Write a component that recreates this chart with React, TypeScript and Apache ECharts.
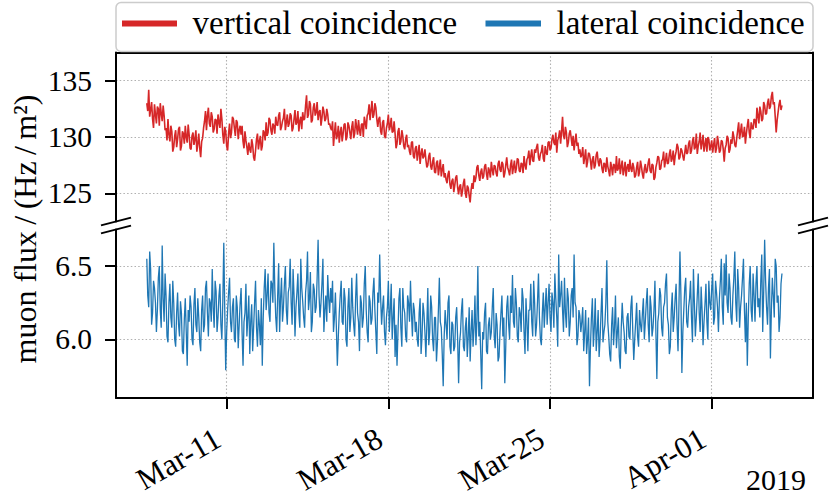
import React, { useEffect, useRef } from 'react';
import * as echarts from 'echarts';

// ---- data (hourly samples starting 2019-03-07 13:00 UTC) ----
const START_TIME = '2019-03-07T13:00:00Z';
const STEP_HOURS = 1;

const SERIES_NAMES = ['vertical coincidence', 'lateral coincidence'];
const TICK_DATES = ['2019-03-11', '2019-03-18', '2019-03-25', '2019-04-01'];
const TICK_LABELS = ['Mar-11', 'Mar-18', 'Mar-25', 'Apr-01'];
const TOP_TICKS = [125, 130, 135];
const BOTTOM_TICKS = [6.0, 6.5];
const YEAR_LABEL = '2019';
const Y_TITLE = 'muon flux\u2009/\u2009(Hz\u2009/\u2009m\u00b2)';

const VERTICAL = [
  133.0, 132.3, 134.2, 131.8, 132.4, 133.1, 131.6, 130.8, 132.9, 132.0, 131.2, 132.7, 132.5, 131.0, 133.0, 132.1, 131.4, 132.8, 131.9, 130.6,
  130.8, 129.7, 131.6, 130.2, 129.6, 131.0, 130.5, 128.7, 129.1, 130.1,
  130.6, 129.1, 129.8, 130.7, 130.9, 128.8, 129.2, 130.5, 130.3, 129.4, 131.0, 130.0, 129.5, 131.1, 130.2, 129.0, 128.9, 130.1, 130.4, 129.3,
  129.8, 130.6, 128.7, 129.4, 130.3, 129.0, 128.2, 129.6, 129.9, 130.8,
  131.4, 132.3, 130.6, 131.9, 132.6, 131.2, 130.9, 132.2, 131.8, 130.4, 130.7, 131.6, 131.5, 130.3, 132.0, 131.3, 130.8, 132.5, 131.6, 130.2,
  129.4, 130.9, 130.5, 129.2, 128.8, 130.3,
  131.2, 129.9, 130.4, 131.8, 131.6, 130.8, 130.1, 131.5, 131.3, 129.8, 130.6, 131.0,
  130.2, 131.0, 129.6, 129.0, 130.5, 129.7, 129.1, 128.4, 129.5, 128.9, 128.6, 129.8, 129.3, 128.2, 127.9, 128.8,
  129.8, 130.3, 128.9, 129.6, 130.1, 128.8, 129.2, 130.6, 130.4, 129.7,
  131.3, 130.1, 130.4, 131.7, 131.5, 130.6, 130.2, 131.2, 131.0, 130.3, 131.8, 131.1,
  131.0, 131.9, 132.2, 130.6, 130.9, 131.4, 131.7, 132.5, 130.6, 131.3, 132.0, 130.9, 131.2, 132.1,
  131.9, 130.5, 130.8, 131.6, 132.4, 131.1, 131.3, 132.3, 130.5, 131.4, 131.8, 130.7, 132.2, 131.5,
  131.6, 132.8, 133.7, 131.7, 132.0, 133.2, 132.9, 131.3, 131.5, 132.6, 133.0, 131.9, 132.2, 133.1,
  131.5, 132.2, 132.4, 131.0, 131.7, 132.7, 132.3, 131.4, 131.6, 132.5, 132.0, 131.1, 131.2, 130.8,
  130.6, 131.4, 129.2, 130.3, 131.3, 129.8, 130.1, 131.0, 129.5, 130.4, 130.9, 129.6, 130.3, 131.1,
  131.2, 129.7, 130.0, 131.3, 131.0, 130.4, 129.8, 130.9, 131.4, 129.9, 130.3, 131.6,
  130.9, 130.2, 131.5, 130.6, 130.1, 131.1, 131.2, 130.0, 131.8, 131.3, 130.7, 131.9,
  132.1, 132.9, 131.5, 132.4, 133.2, 131.7, 132.0, 133.0, 132.6, 131.6,
  130.9, 131.6, 131.8, 130.5, 130.2, 131.3, 131.5, 130.1, 129.9, 130.8, 131.2, 132.0, 130.6, 131.0, 131.7, 130.4, 130.5, 131.4,
  130.3, 129.0, 129.4, 130.5, 130.8, 129.3, 129.6, 130.6, 130.1, 129.2, 128.9, 129.8, 130.2, 129.1,
  129.3, 128.7, 128.4, 129.5, 129.6, 128.3, 128.1, 129.0, 129.2, 127.9, 128.6, 129.3, 127.6, 128.5, 129.0, 128.1, 128.3, 128.9, 128.0, 127.3,
  127.5, 128.3, 128.6, 127.4, 127.1, 127.8, 128.2, 126.9, 126.8, 127.7, 127.9, 126.6, 127.3, 128.0, 126.5, 127.1, 127.6, 126.4,
  126.8, 126.2, 125.9, 126.7, 127.0, 125.8, 125.4, 126.1, 126.3, 125.1, 125.7, 126.4, 126.6, 125.5,
  124.9, 125.6, 125.8, 124.7, 125.2, 125.9, 126.3, 125.0, 124.6, 125.7, 125.5, 124.8, 124.2, 125.3,
  125.9, 125.4, 126.6, 126.0,
  126.4, 127.3, 127.5, 126.6, 126.1, 126.9, 127.2, 126.3, 126.5, 127.4, 127.6, 126.7, 126.2, 127.3, 127.0, 126.4, 127.8, 127.1, 126.6, 127.5,
  127.4, 126.8, 126.5, 127.6, 127.9, 127.1, 126.9, 127.8, 127.6, 126.4, 126.8, 127.5, 128.2, 127.3, 127.0, 126.6, 127.5,
  128.0, 126.7, 127.3, 127.9, 126.8, 127.2, 128.1, 128.0, 127.0, 126.9, 127.7, 127.6, 126.8, 128.3, 127.5, 127.1, 128.0,
  128.2, 128.8, 127.5, 128.3, 128.9, 127.9, 127.8, 128.9, 128.6, 129.1, 129.4, 128.2, 127.9, 128.5, 128.7, 129.3, 128.1, 127.8, 129.2, 128.6, 128.4, 129.5, 129.6, 128.8,
  129.0, 129.8, 130.2, 129.5, 129.3, 130.4, 128.6, 129.7, 130.0, 130.6, 129.4, 130.5, 131.8, 130.1, 129.8, 130.9,
  130.4, 129.1, 129.5, 130.3, 130.6, 129.9, 129.2, 130.1, 128.8, 129.6, 130.3, 129.2, 129.5, 128.5, 128.9, 128.2,
  128.4, 129.1, 127.6, 128.2, 128.9, 127.3, 127.8, 128.6, 128.5, 127.9, 127.1, 128.0, 128.3, 127.2, 127.5, 128.4, 128.7, 127.8, 127.4, 128.1,
  127.9, 127.2, 126.8, 127.7, 127.6, 126.9, 128.2, 127.4, 127.0, 126.5, 127.8, 127.3, 126.6, 127.6, 127.5, 126.8, 128.3, 127.0,
  127.2, 128.1, 126.7, 127.4, 127.9, 126.6, 127.1, 127.8, 126.5, 127.3, 127.6, 126.9, 128.0, 127.2, 126.9, 127.7, 127.3, 126.4,
  126.6, 127.3, 127.8, 126.5, 126.9, 127.9, 127.4, 126.7, 126.3, 127.2, 127.6, 126.8, 127.0, 127.7,
  128.1, 127.0, 126.8, 127.6, 127.5, 126.2, 126.4, 127.3, 127.7, 128.3, 128.2, 127.1, 127.2, 127.9,
  128.0, 128.7, 127.3, 127.9, 128.6, 127.6, 127.7, 128.5, 128.9, 127.8, 128.1, 128.8, 127.5,
  128.3, 128.7, 129.4, 129.1, 128.0, 128.2, 129.0, 128.8, 128.3, 127.9, 128.6, 129.3, 128.5,
  128.6, 129.4, 129.7, 128.5, 128.8, 129.6, 130.0, 128.9, 129.1, 130.3, 128.5, 129.2, 129.6, 130.4, 128.9, 129.5, 130.2, 128.7, 129.3, 129.9,
  128.7, 130.0, 129.8, 128.8, 129.2, 129.7, 128.6, 129.3, 129.9, 128.6, 129.0, 130.1, 129.5, 128.6, 128.8, 129.7, 129.6, 128.9, 127.8, 129.0,
  129.3, 130.1, 129.9, 128.6, 128.9, 129.8, 129.4, 130.5, 130.0, 129.3, 129.1, 129.9,
  130.6, 131.3, 129.8, 130.5, 131.2, 130.0, 130.1, 130.9, 129.4, 130.3, 131.0, 131.6, 130.4, 129.9, 131.3, 130.8, 130.7, 131.6,
  131.5, 130.8, 132.6, 131.9, 131.2, 132.7, 132.3, 131.4, 131.6, 133.1, 132.8, 132.0, 132.1, 133.0,
  133.4, 132.5, 132.7, 133.6, 134.0, 132.9, 133.1, 131.8,
  130.4, 131.5,
  132.2, 132.9, 133.3, 132.4, 132.8,
];

const LATERAL = [
  6.55, 6.30, 6.22, 6.60, 6.48, 6.10, 6.18, 6.40, 6.35, 6.25, 6.05, 6.20, 6.42, 6.50, 6.20, 6.08, 6.64, 6.28, 6.12, 6.45, 6.30, 6.02, 5.98, 6.25, 6.38, 6.15,
  6.08, 6.40, 6.25, 6.00, 5.95, 6.18, 6.32, 6.10, 6.02, 6.26, 6.18, 5.92, 5.90, 6.14, 6.28, 6.05, 5.82, 6.20, 6.12, 6.30, 6.22, 6.00, 5.96, 6.24, 6.35, 6.10, 6.05, 6.28, 6.15, 5.98, 5.92, 6.20,
  6.30, 6.05, 6.10, 6.35, 6.40, 6.18, 6.02, 6.28, 6.25, 6.12, 6.48, 6.22, 6.08, 6.40, 6.33, 6.05, 6.15, 6.30, 6.38, 6.10, 6.00, 6.26, 6.66, 6.20, 5.79, 6.05, 6.20, 6.32, 6.42, 6.12,
  6.05, 6.22, 6.28, 6.00, 5.98, 6.30, 6.22, 5.94, 6.10, 6.25, 6.35, 6.05, 5.82, 6.12, 6.18, 6.38, 6.02, 6.15, 6.30, 5.90, 6.12, 6.24, 5.92, 6.08, 6.25, 6.40, 6.08, 5.95, 6.20, 6.10, 5.96, 6.28,
  5.82, 6.15, 6.35, 6.48, 6.20, 6.30, 6.45, 6.18, 6.12, 6.40, 6.38, 6.25, 6.66, 6.35, 6.15, 6.05, 6.30, 6.52, 6.05, 6.28, 6.42, 6.12, 6.22, 6.38,
  6.50, 6.20, 6.10, 6.32, 6.36, 6.55, 6.25, 6.10, 6.48, 6.30, 6.02, 6.22, 6.32, 6.45, 6.18, 6.08, 6.55, 6.35, 6.26, 6.15, 6.08, 6.32, 6.40, 6.60,
  6.20, 6.28, 6.46, 6.05, 6.12, 6.38, 6.34, 6.18, 6.22, 6.42, 6.68, 6.30, 6.15, 6.25, 6.38, 6.55, 6.05, 6.20, 6.30, 6.12, 6.44, 6.28, 6.18, 6.35,
  6.25, 6.40, 6.05, 6.15, 6.32, 6.08, 5.82, 6.02, 6.18, 6.30, 6.40, 6.12, 6.10, 6.35, 6.28, 6.00, 5.95, 6.22, 6.35, 6.05, 6.15, 6.42, 6.22, 6.10, 6.02, 6.28,
  6.45, 6.18, 6.12, 5.92, 6.30, 6.25, 6.08, 6.15, 6.38, 6.50, 6.20, 6.05, 5.98, 6.30, 6.26, 6.10, 6.14, 6.32, 6.42, 6.20, 6.05, 5.90, 6.32, 6.25, 6.58, 6.28,
  6.10, 6.22, 6.30, 6.05, 5.96, 6.15, 6.22, 6.40, 6.05, 6.20, 6.38, 6.00, 6.15, 6.28, 5.88, 6.10, 5.82, 6.05,
  6.28, 6.35, 6.08, 5.95, 6.35, 6.22, 6.18, 6.02, 5.98, 6.30, 6.25, 6.12, 6.40, 6.18, 6.02, 6.25, 6.20, 6.05,
  6.12, 6.00, 5.95, 6.18, 6.28, 5.90, 6.02, 6.25, 6.18, 6.05, 5.88, 6.10, 6.35, 5.96, 6.05, 6.30, 6.22, 6.00, 5.92,
  6.15, 6.15, 5.85, 5.98, 6.20, 6.42, 6.12, 6.08, 5.90, 5.68, 6.02, 6.20, 6.10, 6.00, 6.25, 6.30, 5.95, 5.90, 6.12,
  6.10, 5.92, 5.95, 6.15, 6.22, 6.00, 5.70, 5.98, 6.05, 6.20, 6.28, 5.95, 5.92, 6.08, 6.15, 5.88, 6.02, 6.22, 5.85, 6.05, 6.20, 5.95, 6.08, 6.30, 5.96, 6.12,
  6.50, 6.02, 6.12, 5.90, 5.66, 6.05, 6.00, 6.18, 6.25, 5.92, 5.90, 6.10, 6.15, 6.00, 6.05, 6.22, 6.35, 6.02, 5.94, 6.18, 6.10, 5.85, 5.88, 6.05, 6.18, 6.30,
  6.02, 6.15, 5.70, 5.95, 6.22, 6.30, 6.10, 6.00, 6.30, 6.18, 6.44, 6.12, 6.08, 6.35, 6.25, 6.02, 5.98, 6.22, 6.18, 6.05, 6.35, 6.28, 6.05,
  5.90, 6.28, 6.12, 5.92, 6.20, 6.20, 6.38, 6.12, 6.02, 6.40, 6.25, 6.02, 6.10, 6.26, 6.45, 6.15, 6.00, 5.96, 6.18, 6.32, 6.08, 6.22, 6.35,
  6.10, 6.25, 6.38, 6.15, 6.05, 6.32, 6.25, 6.08, 6.45, 6.28, 6.15, 5.95, 6.58, 6.22, 6.30, 6.40, 6.20, 6.05,
  6.42, 6.18, 6.08, 6.35, 6.28, 6.02, 6.12, 6.30, 6.35, 6.15, 6.58, 6.25, 6.22, 5.96, 6.02, 6.20, 6.16, 6.05,
  6.12, 6.22, 5.92, 6.05, 6.20, 5.90, 6.00, 6.15, 5.68, 5.95, 6.15, 6.28, 5.95, 6.08, 6.28, 5.92, 6.05, 6.20, 5.88, 6.00, 6.18, 6.35, 5.98, 6.05, 6.10, 6.25, 6.54, 6.12, 6.02, 5.90, 5.85,
  6.10, 6.22, 5.96, 6.08, 6.30, 5.94, 6.05, 6.15, 5.88, 5.80, 6.08, 6.25, 6.12, 6.05, 5.92, 5.90, 6.15, 6.18, 6.02, 6.00, 6.22, 6.30, 6.05, 5.86, 6.00, 6.12, 6.25, 6.02, 5.95, 6.20, 6.10,
  6.05, 6.18, 6.28, 6.00, 6.12, 6.25, 6.35, 6.10, 5.98, 6.30, 6.22, 6.02, 6.08, 6.20, 6.40, 6.05, 5.73, 6.12, 6.18, 6.35, 6.30, 6.08, 6.02, 6.22, 6.25, 6.38, 6.45, 6.15, 6.10, 5.90, 5.95, 6.20, 6.32, 6.05, 6.15, 6.28,
  6.38, 6.10, 5.92, 6.25, 6.60, 6.30, 5.77, 6.05, 6.20, 6.35, 6.42, 6.12, 6.08, 6.22, 6.28, 6.40, 6.15, 5.98, 6.48, 6.25, 6.02, 6.15, 6.30, 6.45, 6.18, 6.05, 6.36, 6.20, 5.96, 6.12, 6.24, 6.38, 6.12, 6.00, 6.40, 6.25,
  6.20, 6.35, 6.45, 6.10, 6.15, 6.40, 6.32, 6.22, 6.05, 6.28, 6.40, 6.55, 6.22, 6.10, 6.52, 6.30, 6.58, 6.25, 6.18, 6.45, 6.35, 6.15, 6.10, 6.30, 6.42, 6.60, 6.25, 6.12, 6.48, 6.35, 6.08, 6.22, 6.30, 6.42, 6.55, 6.20, 5.98, 6.25,
  5.82, 6.15, 6.38, 6.50, 6.20, 6.12, 6.45, 6.30, 6.12, 6.38, 6.50, 6.22, 6.28, 6.15, 6.40, 6.58, 6.05, 6.32, 6.68, 6.40, 6.22, 6.10, 6.35, 6.48, 5.87, 6.20, 6.42, 6.30, 6.15, 6.55, 6.50, 6.25, 6.30, 6.05, 6.15, 6.38, 6.45,
];

const COLORS = ['#d62728', '#1f77b4'];
const FONT = "'Liberation Serif', 'Times New Roman', serif";

export default function App() {
  const ref = useRef<HTMLDivElement>(null);

  useEffect(() => {
    if (!ref.current) return;
    const chart = echarts.init(ref.current, undefined, { renderer: 'svg' });

    const t0 = Date.parse(START_TIME);
    const step = STEP_HOURS * 3600 * 1000;
    const topData = VERTICAL.map((v, i) => [t0 + i * step, v]);
    const botData = LATERAL.map((v, i) => [t0 + i * step, v]);
    const tickVals = TICK_DATES.map((d) => Date.parse(d + 'T00:00:00Z'));
    const xMin = Date.parse('2019-03-06T05:00:00Z');
    const xMax = Date.parse('2019-04-05T09:15:00Z');

    const xFmt = (v: number) => {
      for (let i = 0; i < tickVals.length; i++) {
        if (Math.abs(tickVals[i] - v) < 60000) return TICK_LABELS[i];
      }
      return '';
    };

    const gridLine = {
      show: true,
      lineStyle: { color: '#b0b0b0', width: 1.1, type: [1.5, 2.2] as any },
    };
    const spine = { show: true, onZero: false, lineStyle: { color: '#000', width: 2 } };
    const tick = { show: true, inside: false, length: 11, lineStyle: { color: '#000', width: 2 } };
    const tickFont = { fontFamily: FONT, fontSize: 29.5, color: '#000' };

    const L = 116, R = 813;
    const topTop = 52.5, topBot = 221.5, botTop = 229.5, botBot = 398;

    const breakLine = (cx: number, cy: number) => ({
      type: 'line',
      shape: { x1: cx - 15, y1: cy + 3.9, x2: cx + 15, y2: cy - 3.9 },
      style: { stroke: '#000', lineWidth: 2 },
      z: 100,
    });

    const textStyle = (text: string, size: number, align: string, valign: string) => ({
      text,
      fill: '#000',
      fontFamily: FONT,
      fontSize: size,
      font: `${size}px ${FONT}`,
      align,
      verticalAlign: valign,
      textAlign: align,
      textVerticalAlign: valign,
    });

    chart.setOption({
      animation: false,
      backgroundColor: '#ffffff',
      textStyle: { fontFamily: FONT },
      grid: [
        { left: L, top: topTop, width: R - L, height: topBot - topTop, containLabel: false, outerBoundsMode: 'none' },
        { left: L, top: botTop, width: R - L, height: botBot - botTop, containLabel: false, outerBoundsMode: 'none' },
      ],
      xAxis: [
        {
          type: 'value', gridIndex: 0, position: 'top', min: xMin, max: xMax,
          axisLine: spine,
          axisTick: { show: false, customValues: tickVals },
          axisLabel: { show: false, customValues: tickVals },
          splitLine: gridLine,
        },
        {
          type: 'value', gridIndex: 1, position: 'bottom', min: xMin, max: xMax,
          axisLine: spine,
          axisTick: { ...tick, customValues: tickVals },
          axisLabel: {
            ...tickFont, fontSize: 31, customValues: tickVals, formatter: xFmt,
            rotate: 30, margin: 33, padding: [0, 10, 0, 0],
          },
          splitLine: gridLine,
        },
      ],
      yAxis: [
        {
          type: 'value', gridIndex: 0, position: 'left', min: 122.5, max: 137.5,
          axisLine: spine,
          axisTick: { ...tick, customValues: TOP_TICKS },
          axisLabel: { ...tickFont, customValues: TOP_TICKS, margin: 24, formatter: (v: number) => String(v) },
          splitLine: gridLine,
        },
        {
          type: 'value', gridIndex: 0, position: 'right', min: 122.5, max: 137.5,
          axisLine: spine, axisTick: { show: false }, axisLabel: { show: false }, splitLine: { show: false },
        },
        {
          type: 'value', gridIndex: 1, position: 'left', min: 5.6, max: 6.75,
          axisLine: spine,
          axisTick: { ...tick, customValues: BOTTOM_TICKS },
          axisLabel: { ...tickFont, customValues: BOTTOM_TICKS, margin: 24, formatter: (v: number) => v.toFixed(1) },
          splitLine: gridLine,
        },
        {
          type: 'value', gridIndex: 1, position: 'right', min: 5.6, max: 6.75,
          axisLine: spine, axisTick: { show: false }, axisLabel: { show: false }, splitLine: { show: false },
        },
      ],
      series: [
        {
          name: SERIES_NAMES[0], type: 'line', xAxisIndex: 0, yAxisIndex: 0,
          data: topData, showSymbol: false, symbol: 'none', silent: true,
          lineStyle: { color: COLORS[0], width: 1.6 }, itemStyle: { color: COLORS[0] },
          emphasis: { disabled: true }, z: 3,
        },
        {
          name: SERIES_NAMES[1], type: 'line', xAxisIndex: 1, yAxisIndex: 2,
          data: botData, showSymbol: false, symbol: 'none', silent: true,
          lineStyle: { color: COLORS[1], width: 1.3 }, itemStyle: { color: COLORS[1] },
          emphasis: { disabled: true }, z: 3,
        },
      ],
      graphic: [
        // legend frame
        {
          type: 'rect', shape: { x: 116, y: 2.5, width: 697, height: 49, r: 5 },
          style: { fill: '#ffffff', stroke: '#cccccc', lineWidth: 1.5 }, z: 50,
        },
        { type: 'rect', shape: { x: 122, y: 20.5, width: 55, height: 6 }, style: { fill: COLORS[0] }, z: 51 },
        { type: 'text', x: 192.5, y: 23, style: textStyle(SERIES_NAMES[0], 33, 'left', 'middle'), z: 51 },
        { type: 'rect', shape: { x: 485.5, y: 20.5, width: 55.5, height: 6 }, style: { fill: COLORS[1] }, z: 51 },
        { type: 'text', x: 556.5, y: 23, style: textStyle(SERIES_NAMES[1], 33, 'left', 'middle'), z: 51 },
        // axis break marks
        breakLine(L, topBot), breakLine(L, botTop), breakLine(R, topBot), breakLine(R, botTop),
        // y axis title
        {
          type: 'text', x: 24.5, y: 229, rotation: Math.PI / 2,
          style: textStyle(Y_TITLE, 32, 'center', 'middle'), z: 51,
        },
        // year
        { type: 'text', x: 806, y: 479, style: textStyle(YEAR_LABEL, 30, 'right', 'middle'), z: 51 },
      ],
    });

    return () => chart.dispose();
  }, []);

  return (
    <div
      ref={ref}
      style={{ position: 'fixed', left: 0, top: 0, width: 830, height: 498, background: '#fff' }}
    />
  );
}
